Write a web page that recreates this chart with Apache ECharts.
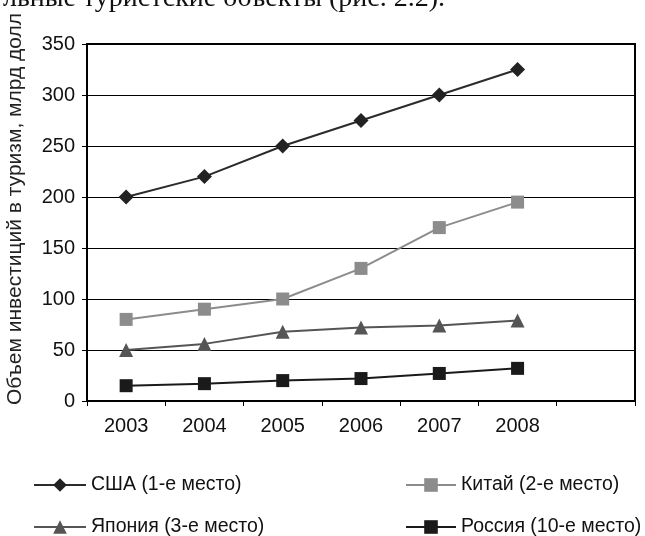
<!DOCTYPE html>
<html>
<head>
<meta charset="utf-8">
<script src="https://cdn.jsdelivr.net/npm/echarts@6/dist/echarts.min.js"></script>
<style>
html,body{margin:0;padding:0;background:#fff;}
#c{width:645px;height:536px;}
</style>
</head>
<body>
<div id="c"></div>
<script>
const categories = ['2003', '2004', '2005', '2006', '2007', '2008', ''];
const usa = [200, 220, 250, 275, 300, 325];
const china = [80, 90, 100, 130, 170, 195];
const japan = [50, 56, 68, 72, 74, 79];
const russia = [15, 17, 20, 22, 27, 32];
const seriesNames = ['США (1-е место)', 'Китай (2-е место)', 'Япония (3-е место)', 'Россия (10-е место)'];
const yTitle = 'Объем инвестиций в туризм, млрд долл';
const caption = 'льные туристские объекты (рис. 2.2).';

const chart = echarts.init(document.getElementById('c'), null, {renderer: 'canvas'});
const font = '"Liberation Sans", Arial, sans-serif';

function mk(name, data, color, lineColor, symbol, size) {
  return {
    name: name, type: 'line', data: data,
    symbol: symbol, symbolSize: size,
    lineStyle: {color: lineColor, width: 2},
    itemStyle: {color: color},
    emphasis: {disabled: true},
    animation: false
  };
}
function lg(name, left, top, w) {
  return {
    data: [name], left: left, top: top, itemWidth: w, itemHeight: 17,
    padding: 0,
    textStyle: {fontSize: 19.5, color: '#111', fontFamily: font},
    selectedMode: false
  };
}

chart.setOption({
  backgroundColor: '#fff',
  animation: false,
  textStyle: {fontFamily: font},
  grid: {left: 87, right: 10, top: 44, bottom: 135, show: true, borderColor: '#000', borderWidth: 2, containLabel: false},
  xAxis: {
    type: 'category', data: categories, boundaryGap: true,
    axisLine: {lineStyle: {color: '#000', width: 2}},
    axisTick: {show: true, length: 5, inside: false, alignWithLabel: false, lineStyle: {color: '#000', width: 1}},
    axisLabel: {color: '#111', fontSize: 20, fontFamily: font, margin: 15, interval: 0},
    splitLine: {show: false}
  },
  yAxis: {
    type: 'value', min: 0, max: 350, interval: 50,
    axisLine: {show: true, lineStyle: {color: '#000', width: 2}},
    axisTick: {show: true, length: 5, lineStyle: {color: '#000', width: 1}},
    axisLabel: {color: '#111', fontSize: 20, fontFamily: font, margin: 12},
    splitLine: {show: true, lineStyle: {color: '#000', width: 1}}
  },
  legend: [
    lg(seriesNames[0], 33, 475, 52),
    lg(seriesNames[2], 33, 517, 52),
    lg(seriesNames[1], 405, 475, 50),
    lg(seriesNames[3], 405, 517, 50)
  ],
  graphic: [
    {
      type: 'text', x: 15, y: 209, rotation: Math.PI / 2,
      style: {text: yTitle, fill: '#222', font: '21px "Liberation Sans", Arial, sans-serif', align: 'center', verticalAlign: 'middle'}
    },
    {
      type: 'text', x: 3, y: 13,
      style: {text: caption, fill: '#111', font: '28px "Liberation Serif", "Times New Roman", serif', align: 'left', verticalAlign: 'bottom'}
    }
  ],
  series: [
    mk(seriesNames[0], usa, '#222', '#2b2b2b', 'diamond', 15),
    mk(seriesNames[1], china, '#8c8c8c', '#8c8c8c', 'rect', 13),
    mk(seriesNames[2], japan, '#555', '#555', 'triangle', 14),
    mk(seriesNames[3], russia, '#1a1a1a', '#1a1a1a', 'rect', 13)
  ]
});
</script>
</body>
</html>
